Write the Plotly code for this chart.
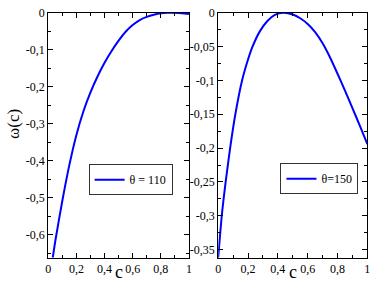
import plotly.graph_objects as go

# theta = 110 (left panel)
c_110 = [0.032, 0.05, 0.10, 0.15, 0.20, 0.25, 0.30, 0.35, 0.40, 0.45, 0.50, 0.55, 0.60, 0.65, 0.70, 0.75, 0.80, 0.85, 0.90, 0.95, 1.0]
w_110 = [-0.662, -0.617, -0.508, -0.411, -0.330, -0.266, -0.215, -0.172, -0.135, -0.103, -0.075, -0.051, -0.033, -0.0195, -0.011, -0.005, -0.001, 0.0, 0.0, -0.001, -0.003]

# theta = 150 (right panel)
c_150 = [0.0, 0.024, 0.05, 0.08, 0.115, 0.16, 0.20, 0.23, 0.28, 0.33, 0.38, 0.437, 0.50, 0.55, 0.60, 0.65, 0.70, 0.75, 0.80, 0.85, 0.90, 0.95, 1.0]
w_150 = [-0.362, -0.30, -0.25, -0.20, -0.15, -0.10, -0.069, -0.05, -0.027, -0.012, -0.003, 0.0, -0.0025, -0.008, -0.0165, -0.0285, -0.045, -0.066, -0.090, -0.115, -0.141, -0.167, -0.194]

x_ticks = [0, 0.2, 0.4, 0.6, 0.8, 1]
x_text = ["0", "0,2", "0,4", "0,6", "0,8", "1"]
y1_ticks = [0, -0.1, -0.2, -0.3, -0.4, -0.5, -0.6]
y1_text = ["0", "-0,1", "-0,2", "-0,3", "-0,4", "-0,5", "-0,6"]
y2_ticks = [0, -0.05, -0.1, -0.15, -0.2, -0.25, -0.3, -0.35]
y2_text = ["0", "-0,05", "-0,1", "-0,15", "-0,2", "-0,25", "-0,3", "-0,35"]

FONT = "Liberation Serif"

fig = go.Figure()
fig.add_trace(go.Scatter(x=c_110, y=w_110, mode="lines", name="θ = 110", showlegend=True,
                         line=dict(color="#0000ff", width=2, shape="spline", smoothing=0.6),
                         xaxis="x", yaxis="y", legend="legend"))
fig.add_trace(go.Scatter(x=c_150, y=w_150, mode="lines", name="θ=150", showlegend=True,
                         line=dict(color="#0000ff", width=2, shape="spline", smoothing=0.6),
                         xaxis="x2", yaxis="y2", legend="legend2"))

ax_common = dict(showline=True, linecolor="black", linewidth=1, mirror="ticks",
                 ticks="inside", ticklen=5, tickcolor="black", showgrid=False, zeroline=False,
                 ticklabeloverflow="allow",
                 tickfont=dict(family=FONT, size=12, color="black"))

fig.update_layout(
    width=374, height=284,
    margin=dict(l=0, r=0, t=0, b=0),
    paper_bgcolor="white", plot_bgcolor="white",
    font=dict(family=FONT, size=12, color="black"),
    separators=",.",
    showlegend=True,
    xaxis=dict(domain=[46/374, 189/374], range=[0, 1], tickmode="array", tickvals=x_ticks, ticktext=x_text,
               minor=dict(ticks="inside", ticklen=3, tickcolor="black", tickmode="linear", tick0=0, dtick=0.1),
               anchor="y", **ax_common),
    yaxis=dict(domain=[1-257/284, 1-6/284], range=[-0.662, 0], tickmode="array", tickvals=y1_ticks, ticktext=y1_text,
               minor=dict(ticks="inside", ticklen=3, tickcolor="black", tickmode="linear", tick0=0, dtick=0.05),
               anchor="x", **ax_common),
    xaxis2=dict(domain=[218.7/374, 370.3/374], range=[0, 1], tickmode="array", tickvals=x_ticks, ticktext=x_text,
                minor=dict(ticks="inside", ticklen=3, tickcolor="black", tickmode="linear", tick0=0, dtick=0.1),
                anchor="y2", **ax_common),
    yaxis2=dict(domain=[1-257/284, 1-6/284], range=[-0.362, 0], tickmode="array", tickvals=y2_ticks, ticktext=y2_text,
                minor=dict(ticks="inside", ticklen=3, tickcolor="black", tickmode="linear", tick0=0, dtick=0.025),
                anchor="x2", **ax_common),
    legend=dict(x=87/374, y=1-177/284, xanchor="left", yanchor="middle",
                bgcolor="white", bordercolor="#333", borderwidth=1,
                font=dict(family=FONT, size=12, color="black"),
                itemwidth=30, tracegroupgap=0),
    legend2=dict(x=282/374, y=1-176/284, xanchor="left", yanchor="middle",
                 bgcolor="white", bordercolor="#333", borderwidth=1,
                 font=dict(family=FONT, size=12, color="black"),
                 itemwidth=30, tracegroupgap=0),
    annotations=[
        dict(text="c", x=117.5/374, y=0, xref="paper", yref="paper", showarrow=False,
             font=dict(family=FONT, size=18, color="black"), xanchor="center", yanchor="bottom"),
        dict(text="c", x=294.5/374, y=0, xref="paper", yref="paper", showarrow=False,
             font=dict(family=FONT, size=18, color="black"), xanchor="center", yanchor="bottom"),
        dict(text="ω(c)", x=10/374, y=1-120/284, xref="paper", yref="paper", showarrow=False, textangle=-90,
             font=dict(family=FONT, size=17, color="black"), xanchor="center", yanchor="middle"),
    ],
)

fig.write_html("out.html", config={"displayModeBar": False},
               post_script="document.body.style.margin='0';document.body.style.padding='0';")
